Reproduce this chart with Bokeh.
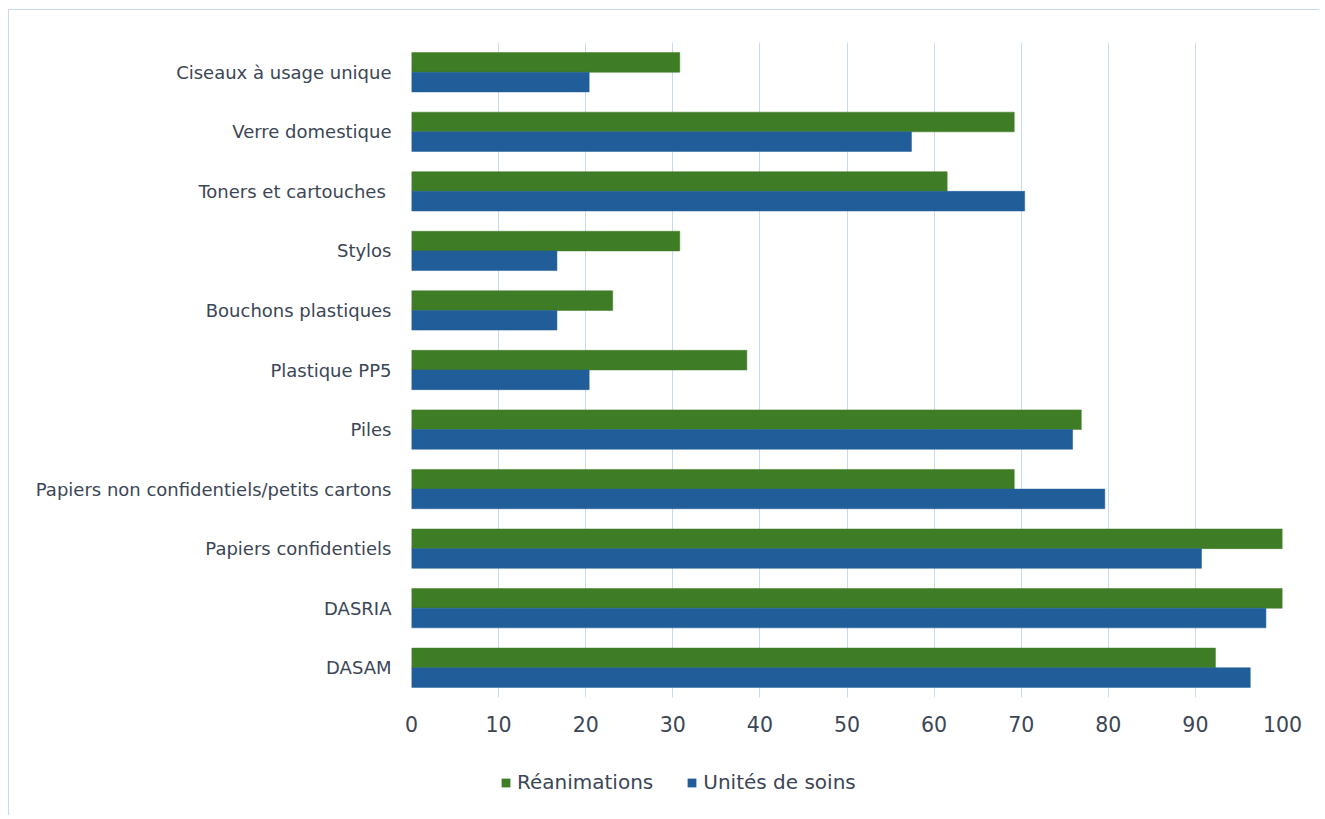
from bokeh.plotting import figure
from bokeh.layouts import column
from bokeh.models import Range1d, FactorRange, FixedTicker, Legend, LegendItem, ColumnDataSource
from bokeh.transform import dodge
from bokeh.embed import file_html
from bokeh.resources import INLINE

categories = [
    "Ciseaux à usage unique",
    "Verre domestique",
    "Toners et cartouches ",
    "Stylos",
    "Bouchons plastiques",
    "Plastique PP5",
    "Piles",
    "Papiers non confidentiels/petits cartons",
    "Papiers confidentiels",
    "DASRIA",
    "DASAM",
]
reanimations = [30.8, 69.2, 61.5, 30.8, 23.1, 38.5, 76.9, 69.2, 100.0, 100.0, 92.3]
unites_soins = [20.4, 57.4, 70.4, 16.7, 16.7, 20.4, 75.9, 79.6, 90.7, 98.1, 96.3]
series_names = ["Réanimations", "Unités de soins"]
x_ticks = [0, 10, 20, 30, 40, 50, 60, 70, 80, 90, 100]

GREEN = "#3e7d25"
BLUE = "#215e99"
TEXT = "#3b4656"
GRID = "#c8daf0"
FONT = "DejaVu Sans"

source = ColumnDataSource(dict(cat=categories, rea=reanimations, uds=unites_soins))

p = figure(
    width=1310, height=735,
    x_range=Range1d(0, 100),
    y_range=FactorRange(factors=categories[::-1], range_padding=0),
    output_backend="svg", toolbar_location=None,
    min_border_left=402, min_border_right=37, min_border_top=32, min_border_bottom=48,
)
p.outline_line_color = None

p.hbar(y=dodge("cat", 0.165, range=p.y_range), right="rea", left=0, height=0.33,
       source=source, fill_color=GREEN, line_color=GREEN, line_width=0.5)
p.hbar(y=dodge("cat", -0.165, range=p.y_range), right="uds", left=0, height=0.33,
       source=source, fill_color=BLUE, line_color=BLUE, line_width=0.5)

p.xaxis.ticker = FixedTicker(ticks=x_ticks)
p.xgrid.ticker = FixedTicker(ticks=x_ticks)
p.xgrid.grid_line_color = GRID
p.xgrid.grid_line_width = 1
p.ygrid.grid_line_color = None

for ax in (p.xaxis, p.yaxis):
    ax.axis_line_color = None
    ax.major_tick_line_color = None
    ax.minor_tick_line_color = None
    ax.major_tick_out = 0
    ax.major_tick_in = 0
    ax.major_label_text_color = TEXT
    ax.major_label_text_font = FONT

p.xaxis.major_label_text_font_size = "20.5px"
p.xaxis.major_label_standoff = 18
p.yaxis.major_label_text_font_size = "18px"
p.yaxis.major_label_standoff = 20

# legend strip below the chart (its frame is aligned with the chart's frame)
lf = figure(
    width=1310, height=70,
    x_range=Range1d(-2, -1),
    y_range=FactorRange(factors=categories[::-1], range_padding=0),
    output_backend="svg", toolbar_location=None,
    min_border=0, min_border_left=0, min_border_right=0, min_border_top=0, min_border_bottom=0,
)
lf.axis.visible = False
lf.grid.visible = False
lf.outline_line_color = None
g1 = lf.hbar(y="cat", right="rea", left=0, height=0, source=source,
             fill_color=GREEN, line_color=None)
g2 = lf.hbar(y="cat", right="uds", left=0, height=0, source=source,
             fill_color=BLUE, line_color=None)

legend = Legend(
    items=[LegendItem(label=series_names[0], renderers=[g1]),
           LegendItem(label=series_names[1], renderers=[g2])],
    orientation="horizontal",
    location=(89, 21),
    label_text_font=FONT, label_text_font_size="20px", label_text_color=TEXT,
    glyph_width=11, glyph_height=11, label_standoff=6, spacing=33,
    padding=0, margin=0, border_line_color=None, background_fill_alpha=0,
    label_height=20,
)
lf.add_layout(legend, "center")

layout = column(p, lf, spacing=0)
layout.styles = {
    "margin-left": "8px", "margin-top": "9px",
    "border-left": f"1px solid {GRID}", "border-top": f"1px solid {GRID}",
}

open("out.html", "w").write(file_html(layout, INLINE))
